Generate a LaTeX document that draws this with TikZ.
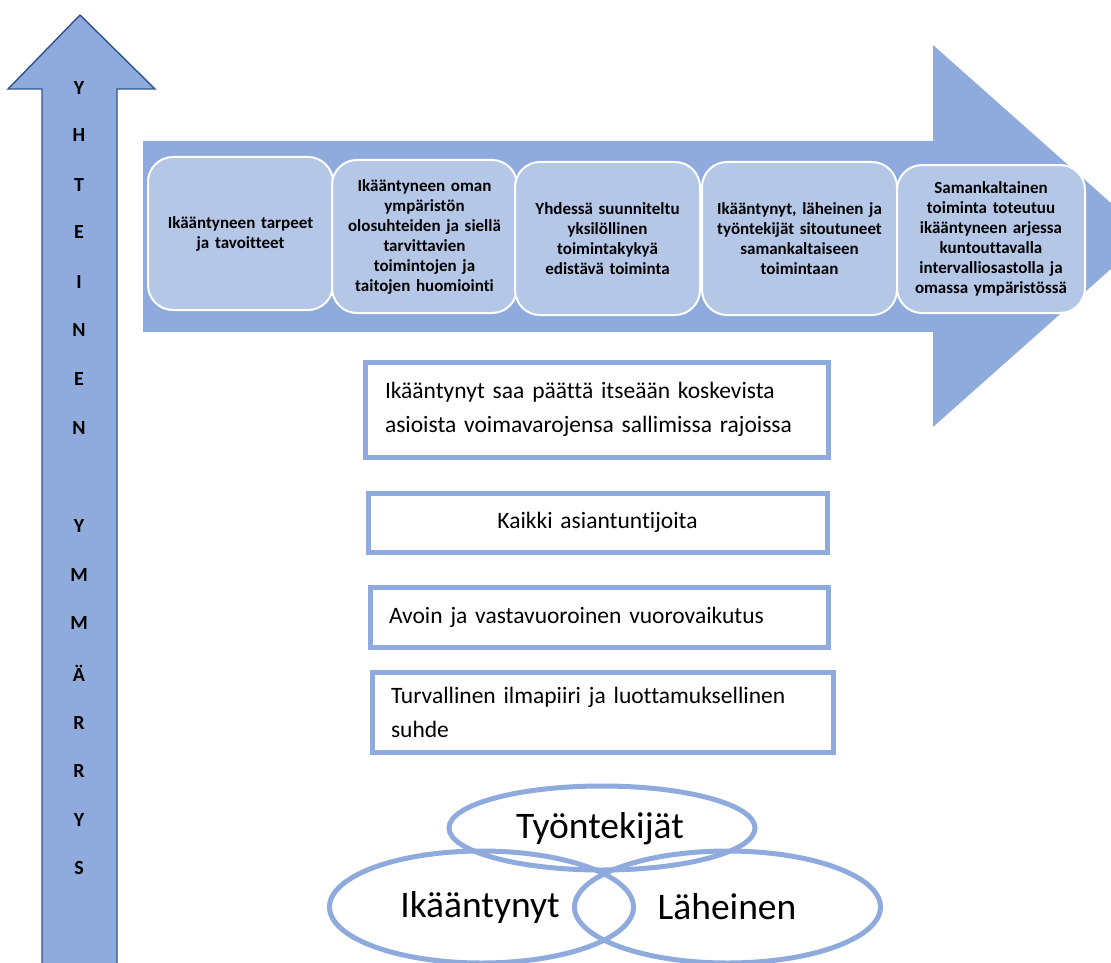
\documentclass[tikz,border=0pt]{standalone}
\usepackage{fontspec}
\setmainfont{Carlito}[Ligatures=NoCommon]
\usetikzlibrary{shapes.geometric}
\definecolor{arrowblue}{HTML}{8FAADC}
\definecolor{boxblue}{HTML}{B4C7E7}
\definecolor{edgeblue}{HTML}{2F528F}
\begin{document}
\begin{tikzpicture}[x=1pt,y=-1pt,
  stepcard/.style={draw=white, line width=2pt, fill=boxblue, rounded corners=25pt, minimum height=153pt, text width=175pt, align=center, font=\bfseries\fontsize{17}{20}\selectfont, inner sep=0pt},
  rulebox/.style={draw=arrowblue, line width=5pt, fill=white, inner sep=0pt, font=\fontsize{23.5}{34}\selectfont},
  ring/.style={draw=arrowblue, line width=5pt, ellipse, inner sep=0pt},
  ringtext/.style={font=\fontsize{37.5}{42}\selectfont},
  letter/.style={font=\bfseries\fontsize{20}{22}\selectfont, inner sep=0pt}
]
\useasboundingbox (0,0) rectangle (1111,963);
\clip (0,0) rectangle (1111,963);
% big process arrow
\fill[arrowblue] (143,141) -- (933,141) -- (933,45) -- (1148,236) -- (933,427) -- (933,332) -- (143,332) -- cycle;
% vertical arrow
\draw[fill=arrowblue, draw=edgeblue, line width=1.4pt] (42,985) -- (42,89) -- (8,89) -- (80,15) -- (155,89) -- (117,89) -- (117,985) -- cycle;
% letters
\foreach \ch/\yy [count=\i] in {Y/88,H/135,T/185,E/232,I/282,N/330,E/379,N/428,Y/526,M/575,M/623,Ä/673,R/723,R/771,Y/820,S/868}
  \node[letter] (l\i) at (79,\yy) {\ch};
% step cards
\node[stepcard, minimum width=185pt] (c1) at (240.5,233.5) {Ikääntyneen tarpeet\\ja tavoitteet};
\node[stepcard, minimum width=185pt] (c2) at (424.5,236.5) {Ikääntyneen oman\\ympäristön\\olosuhteiden ja siellä\\tarvittavien\\toimintojen ja\\taitojen huomiointi};
\node[stepcard, minimum width=185pt] (c3) at (607.5,238.5) {Yhdessä suunniteltu\\yksilöllinen\\toimintakykyä\\edistävä toiminta};
\node[stepcard, minimum width=195pt] (c4) at (799.5,238.5) {Ikääntynyt, läheinen ja\\työntekijät sitoutuneet\\samankaltaiseen\\toimintaan};
\node[stepcard, minimum width=188pt, minimum height=148pt] (c5) at (991,239) {Samankaltainen\\toiminta toteutuu\\ikääntyneen arjessa\\kuntouttavalla\\intervalliosastolla ja\\omassa ympäristössä};
% rule boxes
\node[rulebox, minimum width=463pt, minimum height=95pt, text width=423pt, align=left] (r1) at (596.5,409.5) {Ikääntynyt saa päättä itseään koskevista\\asioista voimavarojensa sallimissa rajoissa};
\node[rulebox, minimum width=459pt, minimum height=59pt, text width=419pt, align=center] (r2) at (597.5,522.5) {Kaikki asiantuntijoita};
\node[rulebox, minimum width=458pt, minimum height=60pt, text width=420pt, align=left] (r3) at (599,617) {Avoin ja vastavuoroinen vuorovaikutus};
\node[rulebox, minimum width=461pt, minimum height=80pt, text width=423pt, align=left] (r4) at (602.5,712) {Turvallinen ilmapiiri ja luottamuksellinen\\suhde};
% ellipses
\node[ring, minimum width=306pt, minimum height=84pt] (e1) at (602,828) {};
\node[ring, minimum width=304pt, minimum height=112pt] (e2) at (481.5,907) {};
\node[ring, minimum width=306pt, minimum height=112pt] (e3) at (727.5,907) {};
\node[ringtext] (t1) at (600,829) {Työntekijät};
\node[ringtext] (t2) at (480,907) {Ikääntynyt};
\node[ringtext] (t3) at (727,907) {Läheinen};
\end{tikzpicture}
\end{document}
